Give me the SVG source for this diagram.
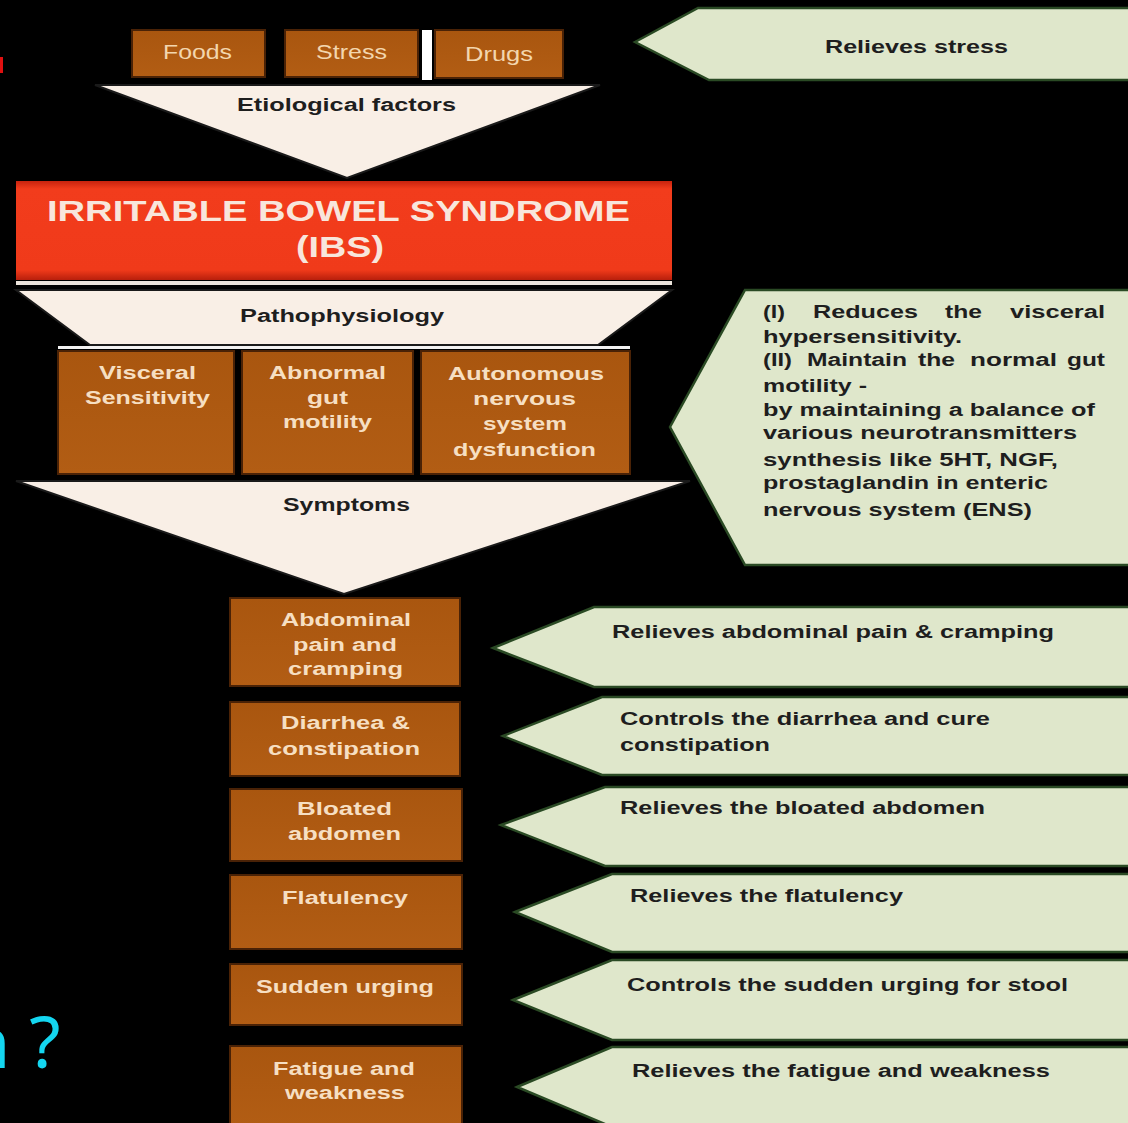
<svg xmlns="http://www.w3.org/2000/svg" width="1128" height="1123" viewBox="0 0 1128 1123">
<defs>
<linearGradient id="redg" x1="0" y1="0" x2="0" y2="1">
<stop offset="0" stop-color="#c8230e"/>
<stop offset="0.08" stop-color="#f23c1c"/>
<stop offset="0.9" stop-color="#f03a1a"/>
<stop offset="1" stop-color="#b81f0c"/>
</linearGradient>
<linearGradient id="brg" x1="0" y1="0" x2="0" y2="1">
<stop offset="0" stop-color="#a9560f"/>
<stop offset="1" stop-color="#b25d14"/>
</linearGradient>
</defs>
<style>
.box{fill:url(#brg);stroke:#4a2206;stroke-width:2}
.bt{font-family:"Liberation Sans",Arial,sans-serif;font-weight:bold;font-size:18px;fill:#f6dfc2}
.ft{font-family:"Liberation Sans",Arial,sans-serif;font-size:20px;fill:#f3d6ae}
.funnel{fill:#f9efe6;stroke:#1a1a1a;stroke-width:2}
.dt{font-family:"Liberation Sans",Arial,sans-serif;font-weight:bold;font-size:18px;fill:#1e1e1e}
.gr{fill:#dfe7cb;stroke:#2a4a24;stroke-width:2.5}
</style>
<rect x="0" y="0" width="1128" height="1123" fill="#000"/>
<rect x="0" y="57" width="3" height="16" fill="#e01010"/>
<text x="-34" y="1068" font-family="'Noto Sans',sans-serif" font-size="72" fill="#14d6f0">n ?</text>

<g id="etiology">
<g id="foods"><rect class="box" x="132" y="30" width="133" height="47"/><text class="ft" x="163" y="59" textLength="69" lengthAdjust="spacingAndGlyphs">Foods</text></g>
<g id="stress"><rect class="box" x="285" y="30" width="133" height="47"/><text class="ft" x="316" y="59" textLength="71" lengthAdjust="spacingAndGlyphs">Stress</text></g>
<rect x="422" y="30" width="10" height="50" fill="#fff"/>
<g id="drugs"><rect class="box" x="435" y="30" width="128" height="48"/><text class="ft" x="465" y="61" textLength="68" lengthAdjust="spacingAndGlyphs">Drugs</text></g>
<g id="etiological-funnel"><polygon class="funnel" points="95,85 600,85 347,178"/><text class="dt" x="237" y="111" textLength="219" lengthAdjust="spacingAndGlyphs">Etiological factors</text></g>
</g>

<g id="ibs">
<rect x="16" y="181" width="656" height="99" fill="url(#redg)"/>
<rect x="16" y="281" width="656" height="4" fill="#ece4dc"/>
<text x="47" y="221" font-family="'Liberation Sans',Arial,sans-serif" font-weight="bold" font-size="30" fill="#f8e6dc" textLength="583" lengthAdjust="spacingAndGlyphs">IRRITABLE BOWEL SYNDROME</text>
<text x="296" y="257" font-family="'Liberation Sans',Arial,sans-serif" font-weight="bold" font-size="30" fill="#f8e6dc" textLength="88" lengthAdjust="spacingAndGlyphs">(IBS)</text>
</g>

<g id="pathophysiology">
<polygon class="funnel" points="16,290 672,290 598,345 90,345"/>
<text class="dt" x="240" y="322" textLength="204" lengthAdjust="spacingAndGlyphs">Pathophysiology</text>
<rect x="58" y="346" width="572" height="3" fill="#f2f2f2"/>
</g>

<g id="visceral"><rect class="box" x="58" y="351" width="176" height="123"/>
<text class="bt" x="99" y="379" textLength="97" lengthAdjust="spacingAndGlyphs">Visceral</text>
<text class="bt" x="85" y="404" textLength="125" lengthAdjust="spacingAndGlyphs">Sensitivity</text></g>
<g id="motility"><rect class="box" x="242" y="351" width="171" height="123"/>
<text class="bt" x="269" y="379" textLength="117" lengthAdjust="spacingAndGlyphs">Abnormal</text>
<text class="bt" x="307" y="404" textLength="41" lengthAdjust="spacingAndGlyphs">gut</text>
<text class="bt" x="283" y="428" textLength="89" lengthAdjust="spacingAndGlyphs">motility</text></g>
<g id="autonomous"><rect class="box" x="421" y="351" width="209" height="123"/>
<text class="bt" x="448" y="380" textLength="156" lengthAdjust="spacingAndGlyphs">Autonomous</text>
<text class="bt" x="473" y="405" textLength="103" lengthAdjust="spacingAndGlyphs">nervous</text>
<text class="bt" x="483" y="430" textLength="84" lengthAdjust="spacingAndGlyphs">system</text>
<text class="bt" x="453" y="456" textLength="143" lengthAdjust="spacingAndGlyphs">dysfunction</text></g>

<g id="symptoms">
<polygon class="funnel" points="16,481 690,481 344,594"/>
<text class="dt" x="283" y="511" textLength="127" lengthAdjust="spacingAndGlyphs">Symptoms</text>
</g>

<g id="s-abdominal"><rect class="box" x="230" y="598" width="230" height="88"/>
<text class="bt" x="281" y="626" textLength="130" lengthAdjust="spacingAndGlyphs">Abdominal</text>
<text class="bt" x="293" y="651" textLength="104" lengthAdjust="spacingAndGlyphs">pain and</text>
<text class="bt" x="288" y="675" textLength="115" lengthAdjust="spacingAndGlyphs">cramping</text></g>
<g id="s-diarrhea"><rect class="box" x="230" y="702" width="230" height="74"/>
<text class="bt" x="281" y="729" textLength="129" lengthAdjust="spacingAndGlyphs">Diarrhea &amp;</text>
<text class="bt" x="268" y="755" textLength="152" lengthAdjust="spacingAndGlyphs">constipation</text></g>
<g id="s-bloated"><rect class="box" x="230" y="789" width="232" height="72"/>
<text class="bt" x="297" y="815" textLength="95" lengthAdjust="spacingAndGlyphs">Bloated</text>
<text class="bt" x="288" y="840" textLength="113" lengthAdjust="spacingAndGlyphs">abdomen</text></g>
<g id="s-flatulency"><rect class="box" x="230" y="875" width="232" height="74"/>
<text class="bt" x="282" y="904" textLength="126" lengthAdjust="spacingAndGlyphs">Flatulency</text></g>
<g id="s-urging"><rect class="box" x="230" y="964" width="232" height="61"/>
<text class="bt" x="256" y="993" textLength="178" lengthAdjust="spacingAndGlyphs">Sudden urging</text></g>
<g id="s-fatigue"><rect class="box" x="230" y="1046" width="232" height="80"/>
<text class="bt" x="273" y="1075" textLength="142" lengthAdjust="spacingAndGlyphs">Fatigue and</text>
<text class="bt" x="285" y="1099" textLength="120" lengthAdjust="spacingAndGlyphs">weakness</text></g>

<g id="r-stress"><polygon class="gr" points="635,42 698,8 1130,8 1130,80 709,80"/>
<text class="dt" x="825" y="53" textLength="183" lengthAdjust="spacingAndGlyphs">Relieves stress</text></g>

<g id="r-path"><polygon class="gr" points="670,427 745,290 1130,290 1130,565 745,565"/>
<text class="dt" x="763" y="318" textLength="22" lengthAdjust="spacingAndGlyphs">(I)</text>
<text class="dt" x="813" y="318" textLength="105" lengthAdjust="spacingAndGlyphs">Reduces</text>
<text class="dt" x="945" y="318" textLength="37" lengthAdjust="spacingAndGlyphs">the</text>
<text class="dt" x="1010" y="318" textLength="95" lengthAdjust="spacingAndGlyphs">visceral</text>
<text class="dt" x="763" y="343" textLength="199" lengthAdjust="spacingAndGlyphs">hypersensitivity.</text>
<text class="dt" x="763" y="366" textLength="29" lengthAdjust="spacingAndGlyphs">(II)</text>
<text class="dt" x="807" y="366" textLength="100" lengthAdjust="spacingAndGlyphs">Maintain</text>
<text class="dt" x="918" y="366" textLength="37" lengthAdjust="spacingAndGlyphs">the</text>
<text class="dt" x="970" y="366" textLength="87" lengthAdjust="spacingAndGlyphs">normal</text>
<text class="dt" x="1067" y="366" textLength="38" lengthAdjust="spacingAndGlyphs">gut</text>
<text class="dt" x="763" y="392" textLength="104" lengthAdjust="spacingAndGlyphs">motility -</text>
<text class="dt" x="763" y="416" textLength="332" lengthAdjust="spacingAndGlyphs">by maintaining a balance of</text>
<text class="dt" x="763" y="439" textLength="314" lengthAdjust="spacingAndGlyphs">various neurotransmitters</text>
<text class="dt" x="763" y="466" textLength="295" lengthAdjust="spacingAndGlyphs">synthesis like 5HT, NGF,</text>
<text class="dt" x="763" y="489" textLength="285" lengthAdjust="spacingAndGlyphs">prostaglandin in enteric</text>
<text class="dt" x="763" y="516" textLength="269" lengthAdjust="spacingAndGlyphs">nervous system (ENS)</text></g>

<g id="r-abdominal"><polygon class="gr" points="493,648 594,607 1130,607 1130,687 594,687"/>
<text class="dt" x="612" y="638" textLength="442" lengthAdjust="spacingAndGlyphs">Relieves abdominal pain &amp; cramping</text></g>
<g id="r-diarrhea"><polygon class="gr" points="503,736 602,697 1130,697 1130,775 602,775"/>
<text class="dt" x="620" y="725" textLength="370" lengthAdjust="spacingAndGlyphs">Controls the diarrhea and cure</text>
<text class="dt" x="620" y="751" textLength="150" lengthAdjust="spacingAndGlyphs">constipation</text></g>
<g id="r-bloated"><polygon class="gr" points="501,825 605,787 1130,787 1130,866 605,866"/>
<text class="dt" x="620" y="814" textLength="365" lengthAdjust="spacingAndGlyphs">Relieves the bloated abdomen</text></g>
<g id="r-flatulency"><polygon class="gr" points="515,912 612,874 1130,874 1130,952 612,952"/>
<text class="dt" x="630" y="902" textLength="273" lengthAdjust="spacingAndGlyphs">Relieves the flatulency</text></g>
<g id="r-urging"><polygon class="gr" points="513,1000 612,960 1130,960 1130,1040 612,1040"/>
<text class="dt" x="627" y="991" textLength="441" lengthAdjust="spacingAndGlyphs">Controls the sudden urging for stool</text></g>
<g id="r-fatigue"><polygon class="gr" points="517,1087 612,1047 1130,1047 1130,1127 612,1127"/>
<text class="dt" x="632" y="1077" textLength="418" lengthAdjust="spacingAndGlyphs">Relieves the fatigue and weakness</text></g>

<g id="connectors"></g>
</svg>
